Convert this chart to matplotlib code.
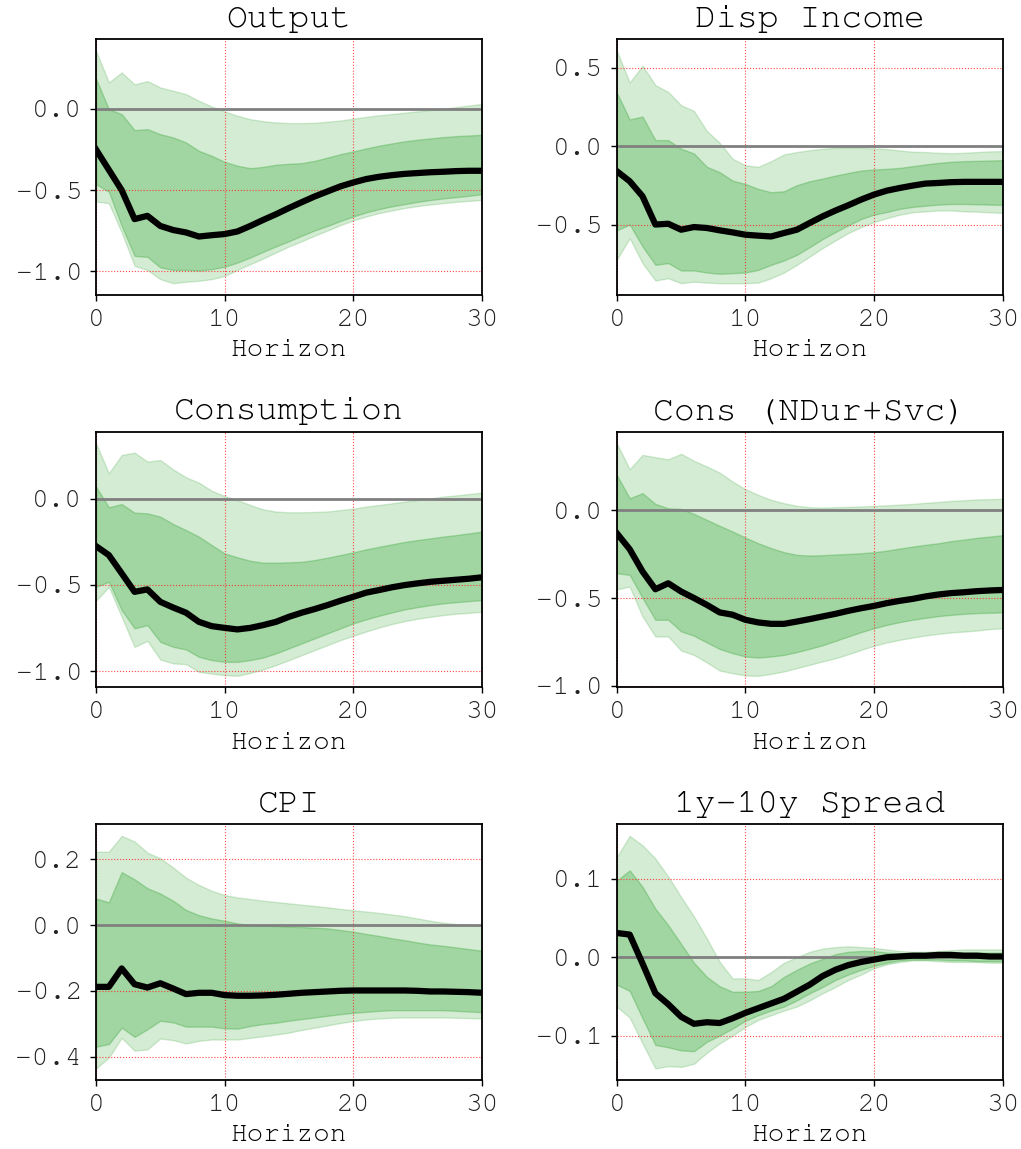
import matplotlib
matplotlib.use("Agg")
import matplotlib.pyplot as plt
import numpy as np

plt.rcParams['font.family'] = ['FreeMono', 'Liberation Mono', 'DejaVu Sans Mono']
plt.rcParams['axes.unicode_minus'] = True

horizon = list(range(31))
titles = ["Output", "Disp Income", "Consumption", "Cons (NDur+Svc)", "CPI", "1y-10y Spread"]
xticks = [0, 10, 20, 30]

# ---------------- Output ----------------
out_mid = [-0.25, -0.375, -0.50, -0.678, -0.658, -0.72, -0.745, -0.76, -0.785, -0.777, -0.77,
           -0.754, -0.72, -0.683, -0.648, -0.61, -0.574, -0.539, -0.508, -0.477, -0.453,
           -0.432, -0.418, -0.408, -0.40, -0.395, -0.39, -0.387, -0.383, -0.381, -0.381]
out_hi90 = [0.357, 0.162, 0.223, 0.15, 0.17, 0.131, 0.111, 0.09, 0.049, 0.014, -0.016,
            -0.043, -0.064, -0.076, -0.084, -0.088, -0.088, -0.086, -0.08, -0.072, -0.061,
            -0.05, -0.04, -0.032, -0.024, -0.016, -0.008, 0.0, 0.01, 0.02, 0.03]
out_hi68 = [0.186, -0.002, -0.033, -0.131, -0.125, -0.156, -0.176, -0.207, -0.258, -0.289, -0.326,
            -0.35, -0.365, -0.357, -0.344, -0.338, -0.334, -0.32, -0.30, -0.279, -0.262,
            -0.244, -0.227, -0.213, -0.20, -0.19, -0.182, -0.174, -0.168, -0.164, -0.16]
out_lo68 = [-0.463, -0.51, -0.72, -0.904, -0.91, -0.975, -0.99, -0.99, -0.994, -0.986, -0.971,
            -0.945, -0.914, -0.879, -0.846, -0.814, -0.78, -0.748, -0.72, -0.69, -0.662,
            -0.637, -0.617, -0.60, -0.586, -0.572, -0.561, -0.551, -0.543, -0.535, -0.525]
out_lo90 = [-0.57, -0.58, -0.76, -0.965, -0.99, -1.047, -1.072, -1.063, -1.057, -1.047, -1.027,
            -0.99, -0.955, -0.92, -0.883, -0.846, -0.814, -0.78, -0.748, -0.715, -0.686,
            -0.662, -0.641, -0.625, -0.61, -0.598, -0.588, -0.58, -0.572, -0.566, -0.56]
out_yticks = [-1.0, -0.5, 0.0]

# ---------------- Disp Income ----------------
inc_mid = [-0.16, -0.224, -0.32, -0.50, -0.495, -0.533, -0.516, -0.522, -0.537, -0.55, -0.565,
           -0.571, -0.576, -0.554, -0.533, -0.49, -0.448, -0.411, -0.377, -0.341, -0.309,
           -0.284, -0.267, -0.252, -0.239, -0.235, -0.23, -0.228, -0.228, -0.228, -0.228]
inc_hi90 = [0.608, 0.405, 0.512, 0.388, 0.345, 0.26, 0.224, 0.096, 0.021, -0.081, -0.122,
            -0.132, -0.096, -0.053, -0.038, -0.026, -0.017, -0.011, -0.011, -0.011, -0.015,
            -0.019, -0.028, -0.036, -0.038, -0.043, -0.045, -0.043, -0.038, -0.034, -0.032]
inc_hi68 = [0.341, 0.17, 0.188, 0.038, 0.038, -0.017, -0.047, -0.132, -0.166, -0.22, -0.241,
            -0.273, -0.294, -0.288, -0.249, -0.224, -0.207, -0.188, -0.171, -0.156, -0.149,
            -0.145, -0.139, -0.128, -0.117, -0.107, -0.10, -0.096, -0.094, -0.092, -0.09]
inc_lo68 = [-0.537, -0.50, -0.64, -0.757, -0.746, -0.793, -0.793, -0.806, -0.814, -0.81, -0.806,
            -0.789, -0.757, -0.729, -0.693, -0.644, -0.593, -0.548, -0.505, -0.465, -0.437,
            -0.42, -0.40, -0.388, -0.38, -0.373, -0.369, -0.369, -0.371, -0.373, -0.375]
inc_lo90 = [-0.725, -0.586, -0.746, -0.857, -0.842, -0.874, -0.864, -0.87, -0.874, -0.874, -0.874,
            -0.87, -0.842, -0.806, -0.757, -0.704, -0.65, -0.601, -0.554, -0.516, -0.484,
            -0.459, -0.437, -0.422, -0.416, -0.41, -0.41, -0.416, -0.418, -0.422, -0.426]
inc_yticks = [-0.5, 0.0, 0.5]

# ---------------- Consumption ----------------
con_mid = [-0.275, -0.327, -0.433, -0.54, -0.526, -0.598, -0.631, -0.661, -0.714, -0.739, -0.749,
           -0.758, -0.749, -0.733, -0.714, -0.685, -0.661, -0.64, -0.617, -0.592, -0.569,
           -0.545, -0.53, -0.514, -0.501, -0.491, -0.482, -0.476, -0.47, -0.464, -0.456]
con_hi90 = [0.321, 0.147, 0.253, 0.267, 0.215, 0.224, 0.17, 0.124, 0.093, 0.046, 0.015,
            -0.008, -0.037, -0.062, -0.075, -0.079, -0.079, -0.077, -0.074, -0.066, -0.058,
            -0.046, -0.037, -0.027, -0.017, -0.008, 0.002, 0.012, 0.019, 0.027, 0.035]
con_hi68 = [0.07, -0.05, -0.031, -0.081, -0.085, -0.104, -0.147, -0.182, -0.22, -0.269, -0.317,
            -0.34, -0.36, -0.371, -0.371, -0.369, -0.366, -0.356, -0.342, -0.327, -0.311,
            -0.294, -0.279, -0.265, -0.251, -0.24, -0.23, -0.22, -0.211, -0.201, -0.191]
con_lo68 = [-0.511, -0.482, -0.646, -0.752, -0.733, -0.83, -0.859, -0.874, -0.917, -0.936, -0.946,
            -0.946, -0.936, -0.921, -0.897, -0.868, -0.839, -0.81, -0.781, -0.752, -0.723,
            -0.70, -0.679, -0.66, -0.642, -0.629, -0.617, -0.607, -0.60, -0.594, -0.588]
con_lo90 = [-0.592, -0.511, -0.685, -0.859, -0.824, -0.932, -0.955, -0.959, -1.004, -1.014, -1.023,
            -1.027, -1.01, -0.99, -0.965, -0.936, -0.907, -0.878, -0.849, -0.82, -0.795,
            -0.77, -0.747, -0.727, -0.71, -0.696, -0.685, -0.675, -0.667, -0.662, -0.656]
con_yticks = [-1.0, -0.5, 0.0]

# ---------------- Cons (NDur+Svc) ----------------
nds_mid = [-0.131, -0.222, -0.349, -0.45, -0.416, -0.463, -0.50, -0.539, -0.582, -0.595, -0.624,
           -0.639, -0.647, -0.647, -0.634, -0.62, -0.605, -0.59, -0.573, -0.558, -0.545,
           -0.529, -0.516, -0.505, -0.491, -0.48, -0.472, -0.467, -0.461, -0.457, -0.454]
nds_hi90 = [0.381, 0.233, 0.315, 0.302, 0.29, 0.321, 0.281, 0.249, 0.214, 0.163, 0.12,
            0.087, 0.059, 0.04, 0.025, 0.017, 0.015, 0.017, 0.019, 0.021, 0.025,
            0.028, 0.032, 0.036, 0.042, 0.047, 0.053, 0.057, 0.061, 0.063, 0.065]
nds_hi68 = [0.201, 0.068, 0.097, 0.036, 0.011, 0.008, -0.021, -0.055, -0.089, -0.121, -0.156,
            -0.188, -0.216, -0.239, -0.254, -0.258, -0.256, -0.252, -0.249, -0.245, -0.239,
            -0.23, -0.218, -0.207, -0.197, -0.188, -0.176, -0.167, -0.157, -0.15, -0.142]
nds_lo68 = [-0.359, -0.368, -0.50, -0.624, -0.624, -0.69, -0.715, -0.753, -0.79, -0.814, -0.833,
            -0.839, -0.833, -0.824, -0.808, -0.789, -0.769, -0.744, -0.719, -0.694, -0.672,
            -0.653, -0.637, -0.624, -0.613, -0.603, -0.596, -0.59, -0.586, -0.584, -0.582]
nds_lo90 = [-0.45, -0.435, -0.605, -0.719, -0.719, -0.799, -0.824, -0.867, -0.913, -0.928, -0.941,
            -0.943, -0.932, -0.918, -0.899, -0.88, -0.861, -0.843, -0.82, -0.795, -0.772,
            -0.753, -0.738, -0.725, -0.713, -0.704, -0.696, -0.691, -0.685, -0.677, -0.672]
nds_yticks = [-1.0, -0.5, 0.0]

# ---------------- CPI ----------------
cpi_mid = [-0.188, -0.188, -0.132, -0.18, -0.19, -0.177, -0.193, -0.21, -0.206, -0.206, -0.213,
           -0.215, -0.215, -0.214, -0.212, -0.209, -0.206, -0.204, -0.202, -0.2, -0.199,
           -0.199, -0.199, -0.199, -0.199, -0.2, -0.202, -0.202, -0.203, -0.204, -0.206]
cpi_hi90 = [0.223, 0.223, 0.271, 0.254, 0.22, 0.203, 0.175, 0.144, 0.122, 0.104, 0.091,
            0.084, 0.079, 0.074, 0.07, 0.066, 0.062, 0.058, 0.054, 0.049, 0.045,
            0.041, 0.037, 0.032, 0.027, 0.02, 0.013, 0.007, 0.003, 0.001, -0.001]
cpi_hi68 = [0.081, 0.069, 0.161, 0.139, 0.112, 0.096, 0.074, 0.046, 0.03, 0.02, 0.013,
            0.005, 0.0, -0.002, -0.003, -0.005, -0.006, -0.008, -0.01, -0.015, -0.02,
            -0.027, -0.033, -0.04, -0.046, -0.053, -0.059, -0.063, -0.068, -0.073, -0.078]
cpi_lo68 = [-0.37, -0.362, -0.312, -0.34, -0.317, -0.291, -0.296, -0.309, -0.309, -0.309, -0.314,
            -0.315, -0.307, -0.301, -0.297, -0.291, -0.286, -0.281, -0.276, -0.271, -0.267,
            -0.264, -0.261, -0.259, -0.259, -0.259, -0.259, -0.259, -0.261, -0.263, -0.265]
cpi_lo90 = [-0.436, -0.403, -0.343, -0.382, -0.378, -0.345, -0.35, -0.36, -0.352, -0.348, -0.348,
            -0.348, -0.343, -0.338, -0.333, -0.327, -0.319, -0.312, -0.305, -0.298, -0.292,
            -0.287, -0.284, -0.282, -0.281, -0.281, -0.281, -0.281, -0.282, -0.283, -0.284]
cpi_yticks = [-0.4, -0.2, 0.0, 0.2]

# ---------------- 1y-10y Spread ----------------
spr_mid = [0.031, 0.029, -0.008, -0.046, -0.06, -0.076, -0.085, -0.083, -0.084, -0.078, -0.071,
           -0.065, -0.059, -0.053, -0.044, -0.035, -0.024, -0.016, -0.01, -0.006, -0.003,
           0.0, 0.001, 0.002, 0.002, 0.003, 0.003, 0.002, 0.002, 0.001, 0.001]
spr_hi90 = [0.128, 0.155, 0.143, 0.126, 0.103, 0.077, 0.052, 0.024, -0.006, -0.027, -0.027,
            -0.029, -0.019, -0.007, 0.0, 0.007, 0.011, 0.013, 0.014, 0.013, 0.012,
            0.01, 0.008, 0.007, 0.007, 0.008, 0.009, 0.01, 0.01, 0.01, 0.01]
spr_hi68 = [0.098, 0.111, 0.09, 0.062, 0.041, 0.017, -0.007, -0.025, -0.037, -0.044, -0.044,
            -0.043, -0.037, -0.025, -0.016, -0.008, -0.002, 0.004, 0.007, 0.008, 0.008,
            0.006, 0.005, 0.003, 0.004, 0.005, 0.006, 0.006, 0.006, 0.006, 0.006]
spr_lo68 = [-0.035, -0.043, -0.078, -0.112, -0.115, -0.119, -0.12, -0.108, -0.1, -0.091, -0.081,
            -0.074, -0.068, -0.063, -0.055, -0.046, -0.038, -0.029, -0.022, -0.016, -0.011,
            -0.007, -0.004, -0.003, -0.003, -0.003, -0.004, -0.004, -0.005, -0.005, -0.005]
spr_lo90 = [-0.063, -0.077, -0.11, -0.142, -0.139, -0.14, -0.136, -0.122, -0.11, -0.1, -0.089,
            -0.08, -0.074, -0.068, -0.063, -0.055, -0.046, -0.038, -0.029, -0.022, -0.014,
            -0.009, -0.006, -0.004, -0.004, -0.005, -0.006, -0.006, -0.006, -0.007, -0.007]
spr_yticks = [-0.1, 0.0, 0.1]

panels = [
    (out_mid, out_lo68, out_hi68, out_lo90, out_hi90, out_yticks),
    (inc_mid, inc_lo68, inc_hi68, inc_lo90, inc_hi90, inc_yticks),
    (con_mid, con_lo68, con_hi68, con_lo90, con_hi90, con_yticks),
    (nds_mid, nds_lo68, nds_hi68, nds_lo90, nds_hi90, nds_yticks),
    (cpi_mid, cpi_lo68, cpi_hi68, cpi_lo90, cpi_hi90, cpi_yticks),
    (spr_mid, spr_lo68, spr_hi68, spr_lo90, spr_hi90, spr_yticks),
]

fig, axes = plt.subplots(3, 2, figsize=(10.21, 11.49), dpi=100)
fig.subplots_adjust(left=0.094, right=0.982, top=0.966, bottom=0.06, hspace=0.535, wspace=0.35)

band_color = '#2ca02c'
for ax, title, (mid, lo68, hi68, lo90, hi90, yt) in zip(axes.flat, titles, panels):
    ax.fill_between(horizon, lo90, hi90, color=band_color, alpha=0.2, linewidth=1.0)
    ax.fill_between(horizon, lo68, hi68, color=band_color, alpha=0.3, linewidth=1.0)
    ax.axhline(0, color='gray', linewidth=2.0, zorder=2)
    ax.plot(horizon, mid, color='black', linewidth=4.5, zorder=3)
    ax.set_xlim(0, 30)
    ax.set_xticks(xticks)
    ax.set_yticks(yt)
    ax.set_title(title, fontsize=25, pad=9)
    ax.set_xlabel('Horizon', fontsize=20, labelpad=6)
    ax.tick_params(labelsize=20, width=1.0, length=4, pad=6, color='black', labelcolor='#222222')
    for sp in ax.spines.values():
        sp.set_linewidth(1.3)
        sp.set_color('black')
    ax.grid(True, linestyle=':', linewidth=0.8)
    for gl in ax.get_xgridlines() + ax.get_ygridlines():
        gl.set_color('#ff3030')
        gl.set_alpha(0.9)

fig.savefig('out.png', dpi=100)
